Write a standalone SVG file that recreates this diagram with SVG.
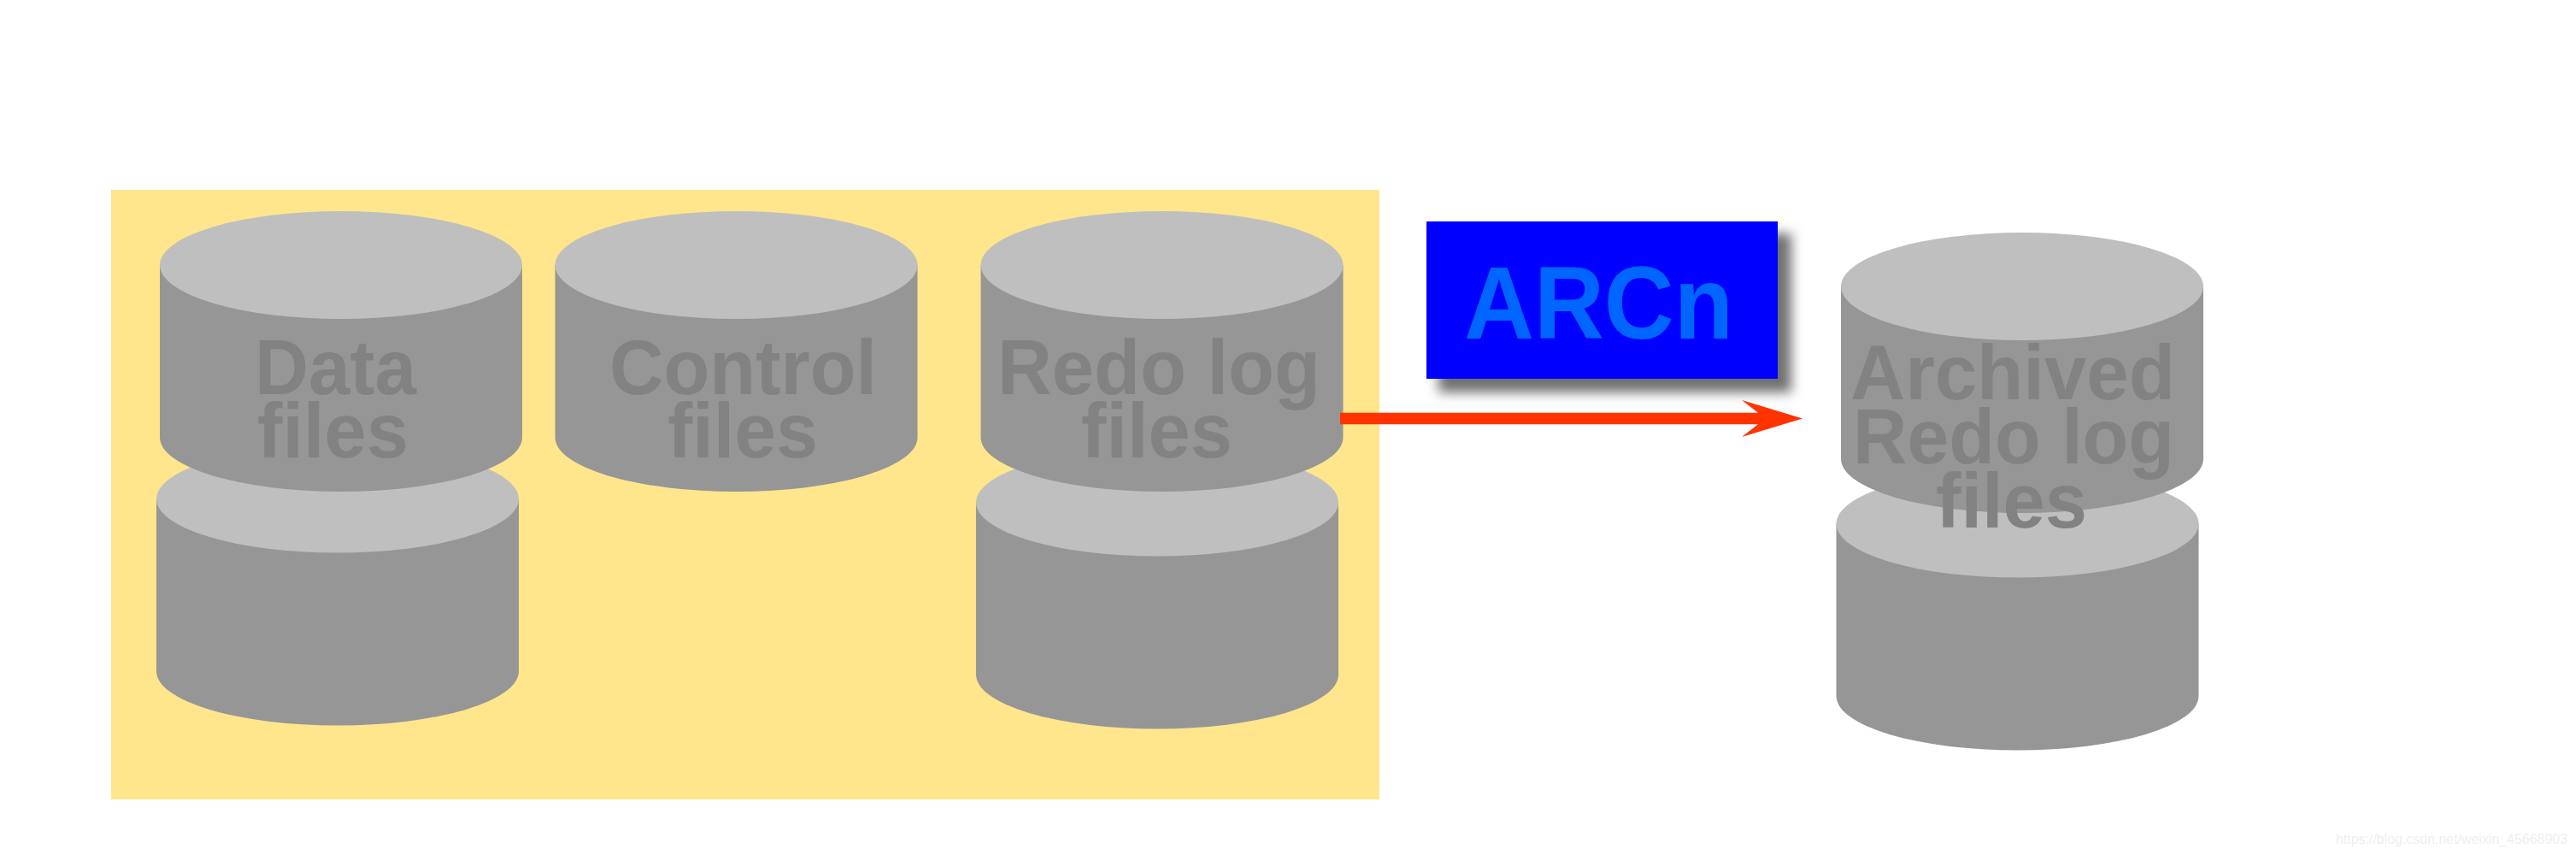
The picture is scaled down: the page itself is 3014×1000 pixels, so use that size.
<svg xmlns="http://www.w3.org/2000/svg" width="3014" height="1000" viewBox="0 0 3014 1000">
<style>
.top{fill:#bfbfbf}
.body{fill:#969696}
text{font-family:"Liberation Sans",Arial,sans-serif;font-weight:bold}
.lab{font-size:91px;fill:#828282}
</style>
<defs>
<filter id="blur" x="-10%" y="-20%" width="120%" height="140%"><feGaussianBlur stdDeviation="7"/></filter>
<g id="cyl">
<path class="body" d="M-212 0V201.500A212 63.500 0 0 0 212 201.500V0Z"/>
<ellipse class="top" rx="212" ry="63"/>
</g>
</defs>
<rect width="3014" height="1000" fill="#fff"/>
<rect id="panel" x="130" y="222" width="1484" height="713" fill="#ffe68c"/>
<g id="data-files-2"><use href="#cyl" x="395" y="583.500"/></g>
<g id="data-files"><use href="#cyl" x="399" y="310"/>
<text class="lab" x="298" y="461" textLength="189" lengthAdjust="spacingAndGlyphs">Data</text>
<text class="lab" x="301" y="535" textLength="177" lengthAdjust="spacingAndGlyphs">files</text></g>
<g id="control-files"><use href="#cyl" x="861.500" y="310"/>
<text class="lab" x="713" y="461" textLength="313" lengthAdjust="spacingAndGlyphs">Control</text>
<text class="lab" x="781" y="535" textLength="176" lengthAdjust="spacingAndGlyphs">files</text></g>
<g id="redo-files-2"><use href="#cyl" x="1354" y="587.500"/></g>
<g id="redo-files"><use href="#cyl" x="1359.500" y="310"/>
<text class="lab" x="1167" y="461" textLength="378" lengthAdjust="spacingAndGlyphs">Redo log</text>
<text class="lab" x="1265" y="535" textLength="177" lengthAdjust="spacingAndGlyphs">files</text></g>
<g id="arcn">
<rect x="1683" y="273" width="413" height="186" fill="#707070" filter="url(#blur)"/>
<rect x="1669" y="259" width="411" height="184" fill="#0000ff"/>
<text x="1713" y="396" font-size="120" fill="#0066ff" textLength="315" lengthAdjust="spacingAndGlyphs">ARCn</text>
</g>
<g id="archived-2"><use href="#cyl" x="2360.500" y="612.500"/></g>
<g id="archived"><use href="#cyl" x="2366" y="335"/>
<text class="lab" x="2165" y="466.500" textLength="380" lengthAdjust="spacingAndGlyphs">Archived</text>
<text class="lab" x="2168" y="541.500" textLength="376" lengthAdjust="spacingAndGlyphs">Redo log</text>
<text class="lab" x="2265" y="617" textLength="177" lengthAdjust="spacingAndGlyphs">files</text></g>
<g id="connectors">
<polygon points="1568,482.700 2057,482.700 2038,468 2109,489.500 2038,511 2057,496.300 1568,496.300" fill="#ff3300"/>
</g>
<text x="2733" y="987" font-size="17" fill="#efefef" style="font-weight:normal" textLength="271" lengthAdjust="spacingAndGlyphs">https://blog.csdn.net/weixin_45668903</text>
</svg>
